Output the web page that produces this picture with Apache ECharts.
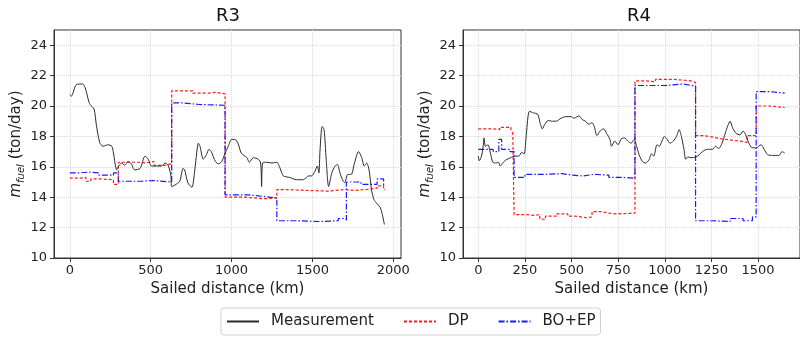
<!DOCTYPE html>
<html>
<head>
<meta charset="utf-8">
<script src="https://cdn.jsdelivr.net/npm/echarts@6/dist/echarts.min.js"></script>
<style>
	html, body { margin: 0; padding: 0; background: #fff; }
	#chart { width: 800px; height: 338px; }
</style>
</head>
<body>
<div id="chart"></div>
<script>
// R3 route: [sailed distance km, fuel ton/day]
const r3Measurement = [
	[0, 20.75], [10, 20.65], [40, 21.4], [80, 21.45], [95, 21.2], [115, 20.4], [125, 20.1], [150, 19.8],
	[165, 18.7], [185, 17.6], [205, 17.35], [235, 17.45], [260, 17.35], [270, 16.9], [290, 15.8], [300, 16.0],
	[320, 16.25], [340, 16.1], [360, 16.35], [380, 16.2], [400, 15.8], [435, 15.9], [465, 16.7], [485, 16.5],
	[505, 16.05], [535, 16.05], [565, 16.05], [590, 16.25], [610, 16.05], [625, 15.4], [630, 14.7], [650, 14.8],
	[680, 15.05], [700, 15.9], [710, 15.8], [730, 14.95], [755, 14.65], [775, 16.0], [795, 17.55], [805, 17.35],
	[825, 16.5], [845, 16.8], [860, 17.15], [875, 17.0], [900, 16.35], [920, 16.2], [940, 16.35], [960, 16.9],
	[980, 17.35], [1000, 17.8], [1020, 17.8], [1040, 17.55], [1060, 16.9], [1095, 16.6], [1110, 16.3], [1135, 16.6],
	[1165, 16.5], [1180, 16.25], [1186, 14.7], [1192, 16.25], [1215, 16.3], [1250, 16.25], [1280, 16.3], [1300, 15.9],
	[1320, 15.4], [1360, 15.3], [1400, 15.15], [1445, 15.15], [1475, 15.4], [1495, 15.4], [1515, 15.7], [1530, 16.05],
	[1540, 15.6], [1547, 17.1], [1560, 18.65], [1572, 18.45], [1585, 16.5], [1600, 14.7], [1620, 15.6], [1640, 16.05],
	[1655, 16.15], [1670, 15.6], [1690, 15.05], [1700, 14.95], [1718, 15.5], [1740, 15.5], [1760, 16.25], [1785, 17.0],
	[1805, 16.6], [1820, 16.05], [1835, 16.25], [1850, 15.8], [1865, 14.5], [1880, 13.85], [1898, 13.6], [1920, 13.3],
	[1930, 12.95], [1945, 12.2]
];
const r3DP = [
	[0, 15.25], [60, 15.3], [100, 15.05], [130, 15.2], [190, 15.15], [270, 14.85], [300, 16.3], [420, 16.25],
	[470, 16.35], [520, 16.1], [590, 16.2], [630, 21.0], [760, 20.85], [860, 20.9], [900, 20.8], [960, 14.0],
	[1080, 13.9], [1200, 13.95], [1280, 14.5], [1340, 14.45], [1450, 14.4], [1600, 14.5], [1700, 14.45], [1760, 14.5],
	[1830, 14.6], [1900, 14.75], [1940, 14.5], [1950, 14.5]
];
const r3BOEP = [
	[0, 15.6], [60, 15.65], [120, 15.6], [180, 15.45], [270, 15.6], [300, 15.05], [450, 15.1], [510, 15.0],
	[630, 20.2], [700, 20.1], [800, 20.05], [960, 14.15], [1100, 14.05], [1200, 13.95], [1280, 12.45], [1400, 12.4],
	[1540, 12.45], [1660, 12.6], [1690, 12.5], [1710, 15.0], [1800, 14.85], [1900, 15.2], [1940, 14.8], [1950, 14.8]
];

// R4 route
const r4Measurement = [
	[0, 16.7], [5, 16.4], [17, 16.7], [26, 17.35], [31, 17.9], [38, 17.35], [52, 17.45], [65, 16.9],
	[78, 16.3], [96, 16.25], [108, 16.3], [118, 16.05], [131, 16.25], [148, 16.45], [174, 16.6], [197, 16.7],
	[218, 16.7], [232, 16.95], [246, 16.85], [258, 18.2], [274, 19.65], [296, 19.55], [319, 19.45], [331, 18.9],
	[343, 18.5], [357, 18.8], [375, 19.05], [392, 19.0], [418, 19.0], [444, 19.2], [470, 19.3], [497, 19.3],
	[514, 19.2], [540, 19.35], [558, 19.1], [575, 19.0], [592, 18.8], [610, 18.9], [622, 18.65], [636, 18.05],
	[653, 18.35], [671, 18.5], [688, 18.2], [706, 17.8], [714, 17.35], [732, 17.7], [749, 17.45], [767, 17.85],
	[784, 17.9], [801, 17.7], [819, 17.55], [836, 17.8], [849, 17.35], [862, 16.8], [880, 16.35], [897, 16.25],
	[915, 16.45], [929, 16.85], [941, 16.7], [958, 17.45], [971, 17.35], [985, 17.7], [998, 18.0], [1011, 17.85],
	[1028, 17.55], [1046, 17.7], [1063, 18.0], [1077, 18.45], [1089, 18.0], [1103, 17.15], [1112, 16.5], [1124, 16.65],
	[1141, 16.6], [1167, 16.65], [1185, 16.8], [1202, 17.0], [1228, 17.15], [1255, 17.15], [1272, 17.35], [1289, 17.2],
	[1307, 17.55], [1324, 18.2], [1338, 18.7], [1350, 19.0], [1364, 18.55], [1382, 18.2], [1403, 18.1], [1420, 18.35],
	[1434, 18.1], [1451, 17.55], [1469, 17.25], [1490, 17.25], [1516, 17.45], [1533, 17.15], [1551, 16.8], [1577, 16.75],
	[1612, 16.75], [1629, 17.0], [1643, 16.9]
];
const r4DP = [
	[0, 18.5], [80, 18.45], [115, 18.6], [175, 18.45], [185, 18.2], [192, 12.85], [260, 12.8], [300, 12.85],
	[330, 12.55], [360, 12.75], [420, 12.9], [480, 12.75], [520, 12.65], [580, 12.7], [610, 13.05], [660, 12.95],
	[700, 12.9], [740, 12.95], [840, 21.65], [900, 21.6], [950, 21.75], [1050, 21.7], [1100, 21.65], [1140, 21.55],
	[1165, 18.05], [1210, 17.95], [1260, 17.85], [1300, 17.75], [1360, 17.7], [1400, 17.6], [1440, 18.05], [1490, 20.0],
	[1560, 19.9], [1643, 19.9]
];
const r4BOEP = [
	[0, 17.15], [80, 17.0], [110, 17.8], [125, 17.15], [170, 17.0], [192, 15.3], [250, 15.5], [350, 15.55],
	[450, 15.45], [500, 15.4], [560, 15.5], [620, 15.45], [700, 15.3], [780, 15.25], [840, 21.35], [950, 21.35],
	[1000, 21.45], [1100, 21.35], [1140, 21.3], [1165, 12.45], [1250, 12.4], [1350, 12.6], [1420, 12.45], [1470, 12.7],
	[1490, 20.95], [1560, 20.85], [1643, 20.85]
];

const r3Ticks = [0, 500, 1000, 1500, 2000];
const r4Ticks = [0, 250, 500, 750, 1000, 1250, 1500];
const yTicks = [10, 12, 14, 16, 18, 20, 22, 24];

const FONT = '"DejaVu Sans", sans-serif';
const chart = echarts.init(document.getElementById('chart'), null, { renderer: 'canvas' });

const gridLine = { show: true, lineStyle: { color: '#d9d9d9', type: 'dotted', width: 1 } };
const plainNumber = v => String(v);

function xAxisFor(gridIndex, min, max, ticks, step) {
	return {
		type: 'value',
		gridIndex: gridIndex,
		min: min,
		max: max,
		minInterval: step,
		maxInterval: step,
		name: 'Sailed distance (km)',
		nameLocation: 'middle',
		nameGap: 21,
		nameTextStyle: { fontFamily: FONT, fontSize: 15, color: '#222' },
		axisLine: { show: true, onZero: false, lineStyle: { color: '#333', width: 1 } },
		axisTick: { show: true, length: 4, customValues: ticks, lineStyle: { color: '#333' } },
		axisLabel: {
			customValues: ticks, formatter: plainNumber,
			margin: 6, fontFamily: FONT, fontSize: 13, color: '#222'
		},
		splitLine: gridLine
	};
}

function yAxisFor(gridIndex) {
	return {
		type: 'value',
		gridIndex: gridIndex,
		min: 10,
		max: 25,
		interval: 2,
		name: '{i|m}{s|fuel}{n| (ton/day)}',
		nameLocation: 'middle',
		nameRotate: 90,
		nameGap: 26,
		nameTextStyle: {
			fontFamily: FONT, fontSize: 15, color: '#222',
			rich: {
				i: { fontFamily: FONT, fontSize: 15, fontStyle: 'italic', color: '#222', verticalAlign: 'bottom' },
				s: { fontFamily: FONT, fontSize: 10, fontStyle: 'italic', color: '#222', verticalAlign: 'bottom', padding: [0, 0, -3, 0] },
				n: { fontFamily: FONT, fontSize: 15, color: '#222', verticalAlign: 'bottom' }
			}
		},
		axisLine: { show: true, onZero: false, lineStyle: { color: '#333', width: 1 } },
		axisTick: { show: true, length: 4, customValues: yTicks, lineStyle: { color: '#333' } },
		axisLabel: {
			customValues: yTicks, formatter: plainNumber,
			margin: 7, fontFamily: FONT, fontSize: 13, color: '#222'
		},
		splitLine: gridLine
	};
}

function seriesFor(idx, meas, dp, boep) {
	return [
		{
			name: 'Measurement', type: 'line', xAxisIndex: idx, yAxisIndex: idx,
			data: meas, showSymbol: false, symbol: 'none', smooth: 0.25,
			lineStyle: { color: '#2b2b2b', width: 1 }, itemStyle: { color: '#2b2b2b' }, z: 4
		},
		{
			name: 'DP', type: 'line', xAxisIndex: idx, yAxisIndex: idx,
			data: dp, step: 'end', showSymbol: false, symbol: 'none',
			lineStyle: { color: '#ff1a1a', width: 1.2, type: [3, 2] }, itemStyle: { color: '#ff1a1a' }, z: 3
		},
		{
			name: 'BO+EP', type: 'line', xAxisIndex: idx, yAxisIndex: idx,
			data: boep, step: 'end', showSymbol: false, symbol: 'none',
			lineStyle: { color: '#1a1aff', width: 1.2, type: [6, 2, 1.5, 2] }, itemStyle: { color: '#1a1aff' }, z: 3
		}
	];
}

const option = {
	animation: false,
	backgroundColor: '#fff',
	title: [
		{ text: 'R3', left: 223, top: 2, textAlign: 'center', textStyle: { fontFamily: FONT, fontSize: 18, fontWeight: 'normal', color: '#111' } },
		{ text: 'R4', left: 634, top: 2, textAlign: 'center', textStyle: { fontFamily: FONT, fontSize: 18, fontWeight: 'normal', color: '#111' } }
	],
	grid: [
		{ left: 54, top: 30, width: 347, height: 228, show: true, borderColor: '#333', borderWidth: 1, backgroundColor: 'transparent' },
		{ left: 463, top: 30, width: 345, height: 228, show: true, borderColor: '#333', borderWidth: 1, backgroundColor: 'transparent' }
	],
	xAxis: [
		xAxisFor(0, -97.5, 2047.5, r3Ticks, 500),
		xAxisFor(1, -82, 1725, r4Ticks, 250)
	],
	yAxis: [yAxisFor(0), yAxisFor(1)],
	legend: {
		data: ['Measurement', 'DP', 'BO+EP'],
		left: 221,
		top: 308,
		orient: 'horizontal',
		itemWidth: 32,
		itemHeight: 12,
		itemGap: 29,
		padding: [6, 5, 6, 5],
		borderColor: '#d0d0d0',
		borderWidth: 1,
		borderRadius: 3,
		itemStyle: { opacity: 0 },
		textStyle: { fontFamily: FONT, fontSize: 15, color: '#222', padding: [0, 0, 0, 7] }
	},
	series: [].concat(
		seriesFor(0, r3Measurement, r3DP, r3BOEP),
		seriesFor(1, r4Measurement, r4DP, r4BOEP)
	)
};

chart.setOption(option);
</script>
</body>
</html>
